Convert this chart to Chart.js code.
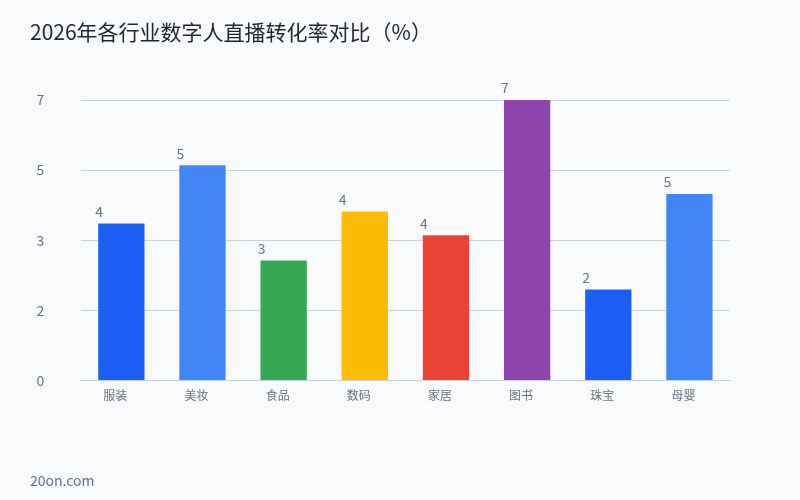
<!DOCTYPE html>
<html>
<head>
  <meta charset="utf-8">
  <title>2026年各行业数字人直播转化率对比</title>
  <style>
      body {
          margin: 0;
          padding: 0;
          background-color: #f8fafc;
          font-family: "Noto Sans CJK SC", "Noto Sans", sans-serif;
      }
      .wrap {
          position: relative;
          width: 800px;
          height: 500px;
      }
      h1 {
          position: absolute;
          left: 30px;
          top: 16px;
          margin: 0;
          font-size: 21px;
          font-weight: normal;
          color: #1f2430;
      }
      .foot {
          position: absolute;
          left: 30px;
          top: 470px;
          font-size: 14px;
          color: #667085;
      }
      .box {
          position: absolute;
          left: 0;
          top: 0;
          width: 800px;
          height: 500px;
      }
  </style>
</head>
<body>
  <div class="wrap">
    <div class="box"><canvas id="chart"></canvas></div>
    <h1>2026年各行业数字人直播转化率对比（%）</h1>
    <div class="foot">20on.com</div>
  </div>
  <script src="https://cdn.jsdelivr.net/npm/chart.js"></script>
  <script>
      // values
      const industries = ['服装', '美妆', '食品', '数码', '家居', '图书', '珠宝', '母婴'];
      const rates = [3.81, 5.22, 2.91, 4.10, 3.52, 6.8, 2.21, 4.52];
      const barColors = ['#1d5ff5', '#4286f5', '#34a853', '#fbbc05', '#ea4335', '#8e44ad', '#1d5ff5', '#4286f5'];

      const yMax = Math.max(...rates);

      // number above each bar, at its left edge
      const valueLabels = {
          id: 'valueLabels',
          afterDatasetsDraw(chart) {
              const ctx = chart.ctx;
              const meta = chart.getDatasetMeta(0);
              ctx.save();
              ctx.font = '14px "Noto Sans CJK SC", sans-serif';
              ctx.fillStyle = '#6b7280';
              ctx.textAlign = 'center';
              ctx.textBaseline = 'bottom';
              meta.data.forEach((bar, i) => {
                  ctx.fillText(Math.round(rates[i]), bar.x - bar.width / 2 + 1, bar.y - 5);
              });
              ctx.restore();
          }
      };

      const ctx = document.getElementById('chart').getContext('2d');
      new Chart(ctx, {
          type: 'bar',
          data: {
              labels: industries,
              datasets: [{
                  data: rates,
                  backgroundColor: barColors,
                  barPercentage: 0.57,
                  categoryPercentage: 1
              }]
          },
          options: {
              responsive: true,
              maintainAspectRatio: false,
              animation: false,
              layout: {
                  padding: { left: 0, right: 70, top: 100, bottom: 97 }
              },
              plugins: {
                  legend: { display: false },
                  tooltip: { enabled: false }
              },
              scales: {
                  x: {
                      grid: { display: false },
                      border: { color: '#cbd2e0' },
                      ticks: {
                          color: '#6b7280',
                          font: { family: '"Noto Sans CJK SC"', size: 12 },
                          padding: 0,
                          labelOffset: -6
                      }
                  },
                  y: {
                      min: 0,
                      max: yMax,
                      border: { display: false },
                      grid: { color: '#cbd2e0', drawTicks: false },
                      ticks: {
                          stepSize: yMax / 4,
                          color: '#6b7280',
                          font: { family: '"Noto Sans CJK SC"', size: 14 },
                          padding: 36.5,
                          callback: v => Math.round(v)
                      }
                  }
              }
          },
          plugins: [valueLabels]
      });
  </script>
</body>
</html>
